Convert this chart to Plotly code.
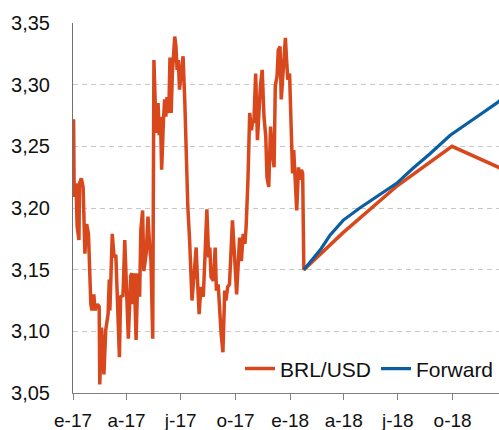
import plotly.graph_objects as go

brl_dates = [
    "2017-01-02", "2017-01-03", "2017-01-06", "2017-01-08", "2017-01-11", "2017-01-12", "2017-01-15",
    "2017-01-18", "2017-01-21", "2017-01-24", "2017-01-27", "2017-01-29", "2017-01-31", "2017-02-02",
    "2017-02-05", "2017-02-07", "2017-02-11", "2017-02-14", "2017-02-15", "2017-02-18", "2017-02-22",
    "2017-02-25", "2017-03-01", "2017-03-03", "2017-03-04", "2017-03-08", "2017-03-11", "2017-03-14",
    "2017-03-17", "2017-03-20", "2017-03-22", "2017-03-26", "2017-03-29", "2017-04-01", "2017-04-04",
    "2017-04-08", "2017-04-10", "2017-04-12", "2017-04-14", "2017-04-17", "2017-04-20", "2017-04-23",
    "2017-04-25", "2017-04-28", "2017-04-30", "2017-05-04", "2017-05-07", "2017-05-10", "2017-05-12",
    "2017-05-15", "2017-05-17", "2017-05-19", "2017-05-21", "2017-05-24", "2017-05-26", "2017-05-28",
    "2017-05-30", "2017-06-02", "2017-06-04", "2017-06-06", "2017-06-08", "2017-06-11", "2017-06-13",
    "2017-06-15", "2017-06-17", "2017-06-21", "2017-06-23", "2017-06-25", "2017-06-27", "2017-06-29",
    "2017-07-02", "2017-07-05", "2017-07-08", "2017-07-10", "2017-07-13", "2017-07-16", "2017-07-20",
    "2017-07-24", "2017-07-27", "2017-07-29", "2017-08-01", "2017-08-04", "2017-08-08", "2017-08-11",
    "2017-08-14", "2017-08-17", "2017-08-19", "2017-08-21", "2017-08-25", "2017-08-28", "2017-08-30",
    "2017-09-02", "2017-09-04", "2017-09-07", "2017-09-10", "2017-09-13", "2017-09-15", "2017-09-18",
    "2017-09-21", "2017-09-24", "2017-09-26", "2017-09-30", "2017-10-03", "2017-10-06", "2017-10-08",
    "2017-10-11", "2017-10-14", "2017-10-17", "2017-10-19", "2017-10-22", "2017-10-23", "2017-10-25",
    "2017-10-28", "2017-10-30", "2017-11-01", "2017-11-04", "2017-11-07", "2017-11-09", "2017-11-12",
    "2017-11-15", "2017-11-18", "2017-11-21", "2017-11-23", "2017-11-26", "2017-11-29", "2017-12-02",
    "2017-12-05", "2017-12-07", "2017-12-10", "2017-12-12", "2017-12-15", "2017-12-17", "2017-12-19",
    "2017-12-21", "2017-12-24", "2017-12-26", "2017-12-28", "2017-12-31", "2018-01-03", "2018-01-05",
    "2018-01-07", "2018-01-09", "2018-01-12", "2018-01-15", "2018-01-17", "2018-01-20", "2018-01-22",
    "2018-01-24", "2018-03-31", "2018-06-30", "2018-09-30", "2018-12-31",
]
brl_values = [
    3.272, 3.209, 3.220, 3.185, 3.174, 3.220, 3.224,
    3.217, 3.163, 3.187, 3.179, 3.155, 3.122, 3.117,
    3.130, 3.117, 3.122, 3.120, 3.057, 3.103, 3.065,
    3.101, 3.114, 3.142, 3.117, 3.179, 3.160, 3.162,
    3.120, 3.079, 3.128, 3.129, 3.174, 3.136, 3.094,
    3.145, 3.147, 3.122, 3.147, 3.093, 3.147, 3.128,
    3.182, 3.198, 3.149, 3.163, 3.193, 3.168, 3.158,
    3.094, 3.320, 3.288, 3.261, 3.285, 3.259, 3.274,
    3.231, 3.271, 3.288, 3.274, 3.290, 3.277, 3.322,
    3.277, 3.309, 3.339, 3.331, 3.312, 3.320, 3.296,
    3.312, 3.323, 3.285, 3.244, 3.201, 3.174, 3.125,
    3.149, 3.168, 3.144, 3.114, 3.136, 3.128, 3.163,
    3.199, 3.160, 3.168, 3.144, 3.141, 3.168, 3.133,
    3.138, 3.120, 3.098, 3.083, 3.133, 3.125, 3.136,
    3.138, 3.179, 3.190, 3.157, 3.130, 3.157, 3.176,
    3.157, 3.179, 3.171, 3.185, 3.222, 3.258, 3.277,
    3.263, 3.271, 3.269, 3.309, 3.255, 3.277, 3.299,
    3.312, 3.274, 3.258, 3.225, 3.217, 3.266, 3.244,
    3.233, 3.299, 3.307, 3.328, 3.331, 3.288, 3.301,
    3.323, 3.338, 3.320, 3.304, 3.309, 3.250, 3.228,
    3.247, 3.225, 3.198, 3.233, 3.223, 3.231, 3.228,
    3.150, 3.180, 3.218, 3.250, 3.230,
]

fwd_dates = [
    "2018-01-24", "2018-02-07", "2018-02-22", "2018-03-09", "2018-03-31", "2018-04-28",
    "2018-05-26", "2018-06-29", "2018-07-26", "2018-08-24", "2018-09-27", "2018-10-19",
    "2018-11-11", "2018-12-17", "2018-12-31",
]
fwd_values = [
    3.150, 3.158, 3.167, 3.178, 3.190, 3.200,
    3.209, 3.220, 3.232, 3.244, 3.259, 3.266,
    3.274, 3.286, 3.293,
]

x_tick_dates = ["2017-01-01", "2017-04-01", "2017-07-01", "2017-10-01",
                "2018-01-01", "2018-04-01", "2018-07-01", "2018-10-01"]
x_tick_labels = ["e-17", "a-17", "j-17", "o-17", "e-18", "a-18", "j-18", "o-18"]
y_ticks = [3.05, 3.10, 3.15, 3.20, 3.25, 3.30, 3.35]

ORANGE = "#D9481C"
BLUE = "#0B5EA0"
FONT = "Liberation Sans, Arial, sans-serif"

fig = go.Figure()
fig.add_trace(go.Scatter(x=brl_dates, y=brl_values, mode="lines", name="BRL/USD",
                         line=dict(color=ORANGE, width=3.5)))
fig.add_trace(go.Scatter(x=fwd_dates, y=fwd_values, mode="lines", name="Forward",
                         line=dict(color=BLUE, width=3.2)))

fig.update_layout(
    width=499, height=430,
    margin=dict(l=73, r=0, t=23, b=37),
    paper_bgcolor="white", plot_bgcolor="white",
    separators=",.",
    font=dict(family=FONT, color="#111111", size=20),
    legend=dict(orientation="h", x=1.0, xanchor="right", y=0.065, yanchor="middle",
                font=dict(size=21, family=FONT), bgcolor="rgba(0,0,0,0)",
                itemwidth=30, tracegroupgap=0),
    showlegend=True,
)
fig.update_xaxes(
    type="date", range=["2017-01-01", "2018-12-18"],
    tickvals=x_tick_dates, ticktext=x_tick_labels,
    ticks="outside", ticklen=6, tickcolor="#808080", tickwidth=1,
    showline=True, linecolor="#808080", linewidth=1,
    showgrid=False, zeroline=False, ticklabelstandoff=4,
    tickfont=dict(size=19, family=FONT),
)
fig.update_yaxes(
    range=[3.05, 3.35], tickvals=y_ticks, tickformat=".2f",
    showline=True, linecolor="#707070", linewidth=1,
    showgrid=True, gridcolor="#C8C8C8", gridwidth=1, griddash="5px,4px",
    zeroline=False, ticks="", ticklabelstandoff=18,
    tickfont=dict(size=20, family=FONT),
)

fig.write_html(
    "out.html",
    config={"displayModeBar": False},
    post_script="document.body.style.margin='0px';document.body.style.overflow='hidden';",
)
